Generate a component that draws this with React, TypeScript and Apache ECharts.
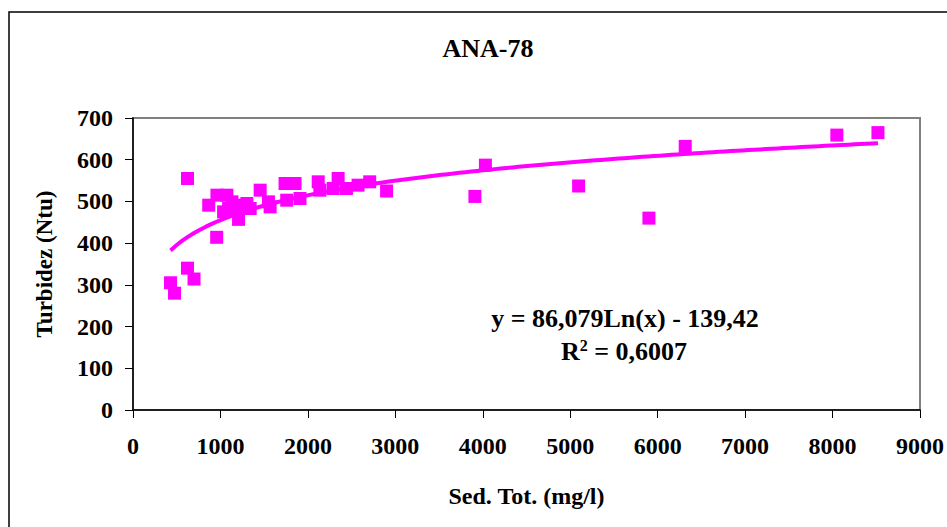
import React, { useEffect, useRef } from "react";
import * as echarts from "echarts";

// Sed. Tot. (mg/l) readings and matching turbidity (Ntu)
const sedTot = [
  429, 475, 623, 623, 698, 866, 957, 960, 1036, 1074, 1093, 1131, 1188, 1207,
  1264, 1302, 1340, 1454, 1549, 1568, 1739, 1758, 1853, 1910, 2118, 2137,
  2289, 2346, 2441, 2574, 2707, 2900, 3910, 4030, 5096, 5900, 6315, 8049, 8519,
];
const turbidez = [
  305, 280, 555, 340, 314, 491, 414, 515, 475, 515, 483, 499, 483, 457,
  491, 495, 483, 527, 499, 487, 543, 503, 543, 507, 547, 527,
  531, 555, 531, 539, 547, 525, 512, 587, 537, 460, 632, 659, 665,
];

// Logarithmic trend: y = A·ln(x) + B
const trendA = 86.079;
const trendB = -139.42;
const trendSteps = 120;

const xTicks = [0, 9000, 1000];
const yTicks = [0, 700, 100];

const FONT = "'Liberation Serif', 'Times New Roman', serif";
const MAGENTA = "#FF00FF";

export default function App() {
  const ref = useRef<HTMLDivElement>(null);

  useEffect(() => {
    document.body.style.margin = "0";
    if (!ref.current) return;
    const chart = echarts.init(ref.current, null, { renderer: "svg" });

    const points = sedTot.map((x, i) => [x, turbidez[i]]);
    const xMin = Math.min(...sedTot);
    const xMax = Math.max(...sedTot);
    const trend: number[][] = [];
    for (let i = 0; i <= trendSteps; i++) {
      const x = xMin + ((xMax - xMin) * i) / trendSteps;
      trend.push([x, trendA * Math.log(x) + trendB]);
    }

    const labelStyle = {
      fontFamily: FONT,
      fontWeight: "bold" as const,
      fontSize: 24,
      color: "#000",
    };

    chart.setOption({
      animation: false,
      backgroundColor: "#fff",
      title: {
        text: "ANA-78",
        left: 483,
        top: 30,
        textAlign: "center",
        textStyle: { ...labelStyle, fontSize: 26 },
      },
      grid: {
        left: 133,
        right: 23,
        top: 118,
        bottom: 117,
        show: true,
        borderColor: "#808080",
        borderWidth: 2,
        backgroundColor: "#fff",
      },
      xAxis: {
        type: "value",
        min: xTicks[0],
        max: xTicks[1],
        interval: xTicks[2],
        name: "Sed. Tot. (mg/l)",
        nameLocation: "middle",
        nameGap: 74,
        nameTextStyle: labelStyle,
        axisLine: { lineStyle: { color: "#000", width: 1.5 } },
        axisTick: { show: true, length: 8, lineStyle: { color: "#000" } },
        axisLabel: { ...labelStyle, margin: 24, formatter: (v: number) => String(v) },
        splitLine: { show: false },
      },
      yAxis: {
        type: "value",
        min: yTicks[0],
        max: yTicks[1],
        interval: yTicks[2],
        name: "Turbidez (Ntu)",
        nameLocation: "middle",
        nameGap: 77,
        nameTextStyle: { ...labelStyle, fontSize: 23 },
        axisLine: { show: true, lineStyle: { color: "#000", width: 1.5 } },
        axisTick: { show: true, length: 8, lineStyle: { color: "#000" } },
        axisLabel: { ...labelStyle, margin: 20 },
        splitLine: { show: false },
      },
      graphic: [
        {
          type: "rect",
          shape: { x: 9, y: 12, width: 1000, height: 600 },
          style: { fill: "none", stroke: "#000", lineWidth: 1.5 },
          silent: true,
        },
        {
          type: "text",
          x: 625,
          y: 318,
          style: {
            text: "y = 86,079Ln(x) - 139,42",
            font: `bold 26px ${FONT}`,
            fill: "#000",
            align: "center",
            verticalAlign: "middle",
          },
          z: 10,
        },
        {
          type: "text",
          x: 624,
          y: 351,
          style: {
            text: "R{sup|2} = 0,6007",
            font: `bold 26px ${FONT}`,
            fill: "#000",
            align: "center",
            verticalAlign: "middle",
            rich: {
              sup: { font: `bold 16px ${FONT}`, verticalAlign: "top", padding: [0, 0, 12, 0] },
            },
          },
          z: 10,
        },
      ],
      series: [
        {
          type: "line",
          data: trend,
          showSymbol: false,
          smooth: false,
          lineStyle: { color: MAGENTA, width: 4 },
          z: 3,
        },
        {
          type: "scatter",
          data: points,
          symbol: "rect",
          symbolSize: 13,
          itemStyle: { color: MAGENTA, opacity: 1 },
          z: 2,
        },
      ],
    });

    return () => chart.dispose();
  }, []);

  return (
    <div
      ref={ref}
      style={{ position: "absolute", left: 0, top: 0, width: 947, height: 527 }}
    />
  );
}
